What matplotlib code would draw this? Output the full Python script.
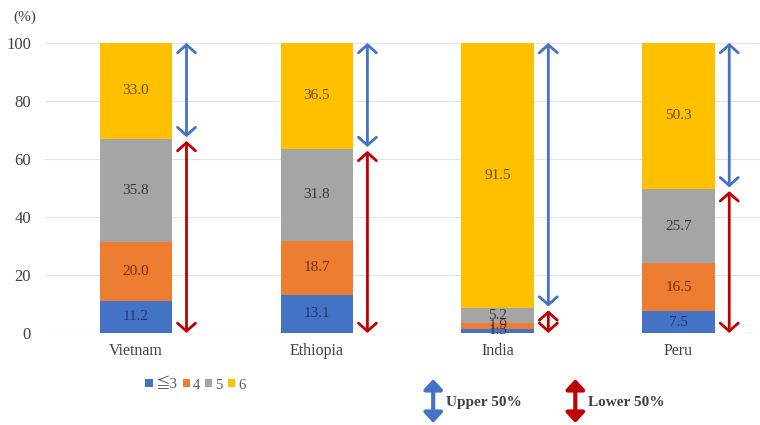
import numpy as np
import matplotlib.pyplot as plt
from matplotlib.patches import FancyArrowPatch

plt.rcParams['font.family'] = ['Liberation Serif', 'Noto Sans CJK JP', 'DejaVu Sans']

countries = ['Vietnam', 'Ethiopia', 'India', 'Peru']
grade_le3 = [11.2, 13.1, 1.5, 7.5]
grade_4 = [20.0, 18.7, 1.9, 16.5]
grade_5 = [35.8, 31.8, 5.2, 25.7]
grade_6 = [33.0, 36.5, 91.5, 50.3]
series_names = ['≦3', '4', '5', '6']
colors = ['#4472C4', '#ED7D31', '#A5A5A5', '#FFC000']
text_colors = ['#1F3A70', '#6B3414', '#3A3A3A', '#6B5200']

fig = plt.figure(figsize=(7.6, 4.25), dpi=100)
ax = fig.add_axes([0.059, 0.2165, 0.941, 0.6825])

x = np.arange(len(countries))
w = 0.4
bottom = np.zeros(len(countries))
for vals, name, c, tc in zip([grade_le3, grade_4, grade_5, grade_6], series_names, colors, text_colors):
    vals = np.array(vals)
    ax.bar(x, vals, w, bottom=bottom, color=c, label=name, zorder=2)
    for xi, b, v in zip(x, bottom, vals):
        ax.text(xi, b + v / 2, f'{v:.1f}', ha='center', va='center',
                fontsize=11, color=tc, zorder=3)
    bottom += vals

arrow = '<->,head_length=0.32,head_width=0.36'

# upper / lower 50% arrows beside each bar
split = np.array(grade_le3) + np.array(grade_4) + np.array(grade_5)
for xi, s in zip(x, split):
    xa = xi + 0.28
    ax.annotate('', xy=(xa, s + 0.5), xytext=(xa, 100),
                arrowprops=dict(arrowstyle=arrow, color='#4472C4', lw=2,
                                mutation_scale=18, shrinkA=0, shrinkB=0))
    ax.annotate('', xy=(xa, 0), xytext=(xa, s - 0.8),
                arrowprops=dict(arrowstyle=arrow, color='#C00000', lw=2,
                                mutation_scale=18, shrinkA=0, shrinkB=0))

ax.set_ylim(0, 100)
ax.set_xlim(-0.503, 3.45)
ax.set_yticks(range(0, 101, 20))
ax.set_xticks(x)
ax.set_xticklabels(countries, fontsize=11.5, color='#404040')
ax.tick_params(axis='y', labelsize=12, labelcolor='#404040', length=0, pad=10)
ax.tick_params(axis='x', length=0, pad=7)
ax.grid(axis='y', color='#E3E3E3', lw=0.8, zorder=0)
for sp in ax.spines.values():
    sp.set_visible(False)
ax.axhline(0, color='#D9D9D9', lw=0.8, zorder=1)

fig.text(0.018, 0.952, '(%)', fontsize=11, color='#404040')

ax.legend(loc='upper left', bbox_to_anchor=(0.122, -0.11), ncol=4, frameon=False,
          fontsize=10.5, handlelength=0.5, handleheight=0.5, handletextpad=0.2,
          columnspacing=0.35, labelcolor='#595959')

# arrow key
for xf, col, txt in [(0.570, '#4472C4', 'Upper 50%'), (0.757, '#C00000', 'Lower 50%')]:
    fig.patches.append(FancyArrowPatch(
        (xf, 0.005), (xf, 0.108), transform=fig.transFigure,
        arrowstyle='<|-|>,head_length=0.3,head_width=0.28', color=col, lw=3,
        mutation_scale=20, shrinkA=0, shrinkB=0))
    fig.text(xf + 0.017, 0.052, txt, fontsize=11, fontweight='bold',
             va='center', color='#404040')

fig.savefig('out.png', dpi=100)
